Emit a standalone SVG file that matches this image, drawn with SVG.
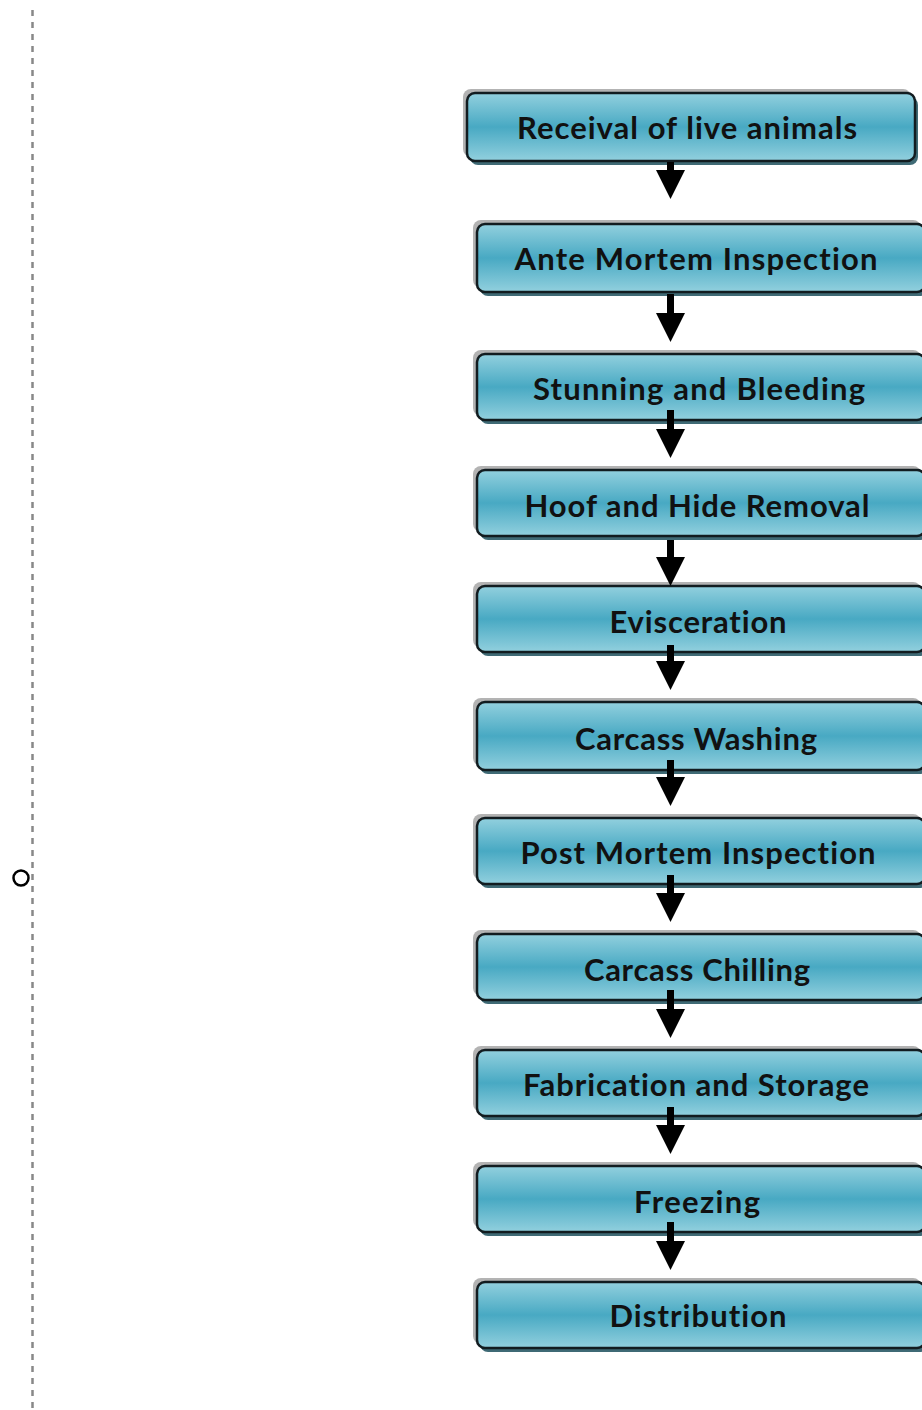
<svg xmlns="http://www.w3.org/2000/svg" width="922" height="1410" viewBox="0 0 922 1410">
<style>
.lbl{font-family:Lato,"Liberation Sans",sans-serif;font-weight:bold;font-size:31px;fill:#111;text-anchor:middle;font-variant-ligatures:none;font-feature-settings:"liga" 0}
.hi{fill:#b3b3b3}
.sh{fill:#3f6a75}
.bx{fill:url(#g);stroke:#121c20;stroke-width:2.5}
.arr{fill:#000}
</style>
<defs>
<linearGradient id="g" x1="0" y1="0" x2="0" y2="1">
<stop offset="0" stop-color="#92d0de"/>
<stop offset="0.5" stop-color="#48a9c3"/>
<stop offset="1" stop-color="#92d0de"/>
</linearGradient>
</defs>
<rect width="922" height="1410" fill="#fff"/>
<line x1="32.5" y1="10" x2="32.5" y2="1410" stroke="#888" stroke-width="2.5" stroke-dasharray="6,6"/>
<circle cx="21" cy="878" r="7.5" fill="none" stroke="#000" stroke-width="2.5"/>

<g id="n1"><rect class="hi" x="463" y="89" width="448" height="68" rx="8"/><rect class="sh" x="470" y="97" width="448" height="68" rx="8"/><rect class="bx" x="467" y="93" width="448" height="68" rx="8"/><text class="lbl" x="687" y="139" textLength="340">Receival of live animals</text></g>
<g id="n2"><rect class="hi" x="473" y="220" width="448" height="68" rx="8"/><rect class="sh" x="480" y="228" width="448" height="68" rx="8"/><rect class="bx" x="477" y="224" width="448" height="68" rx="8"/><text class="lbl" x="696" y="270" textLength="363">Ante Mortem Inspection</text></g>
<g id="n3"><rect class="hi" x="473" y="350" width="448" height="66" rx="8"/><rect class="sh" x="480" y="358" width="448" height="66" rx="8"/><rect class="bx" x="477" y="354" width="448" height="66" rx="8"/><text class="lbl" x="699" y="400" textLength="332">Stunning and Bleeding</text></g>
<g id="n4"><rect class="hi" x="473" y="466" width="448" height="66" rx="8"/><rect class="sh" x="480" y="474" width="448" height="66" rx="8"/><rect class="bx" x="477" y="470" width="448" height="66" rx="8"/><text class="lbl" x="697" y="517" textLength="345">Hoof and Hide Removal</text></g>
<g id="n5"><rect class="hi" x="473" y="582" width="448" height="66" rx="8"/><rect class="sh" x="480" y="590" width="448" height="66" rx="8"/><rect class="bx" x="477" y="586" width="448" height="66" rx="8"/><text class="lbl" x="698" y="633" textLength="177">Evisceration</text></g>
<g id="n6"><rect class="hi" x="473" y="698" width="448" height="68" rx="8"/><rect class="sh" x="480" y="706" width="448" height="68" rx="8"/><rect class="bx" x="477" y="702" width="448" height="68" rx="8"/><text class="lbl" x="696" y="750" textLength="242">Carcass Washing</text></g>
<g id="n7"><rect class="hi" x="473" y="814" width="448" height="66" rx="8"/><rect class="sh" x="480" y="822" width="448" height="66" rx="8"/><rect class="bx" x="477" y="818" width="448" height="66" rx="8"/><text class="lbl" x="698" y="864" textLength="355">Post Mortem Inspection</text></g>
<g id="n8"><rect class="hi" x="473" y="930" width="448" height="66" rx="8"/><rect class="sh" x="480" y="938" width="448" height="66" rx="8"/><rect class="bx" x="477" y="934" width="448" height="66" rx="8"/><text class="lbl" x="697" y="981" textLength="226">Carcass Chilling</text></g>
<g id="n9"><rect class="hi" x="473" y="1046" width="448" height="66" rx="8"/><rect class="sh" x="480" y="1054" width="448" height="66" rx="8"/><rect class="bx" x="477" y="1050" width="448" height="66" rx="8"/><text class="lbl" x="696" y="1096" textLength="346">Fabrication and Storage</text></g>
<g id="n10"><rect class="hi" x="473" y="1162" width="448" height="66" rx="8"/><rect class="sh" x="480" y="1170" width="448" height="66" rx="8"/><rect class="bx" x="477" y="1166" width="448" height="66" rx="8"/><text class="lbl" x="697" y="1213" textLength="126">Freezing</text></g>
<g id="n11"><rect class="hi" x="473" y="1278" width="448" height="66" rx="8"/><rect class="sh" x="480" y="1286" width="448" height="66" rx="8"/><rect class="bx" x="477" y="1282" width="448" height="66" rx="8"/><text class="lbl" x="698" y="1327" textLength="177">Distribution</text></g>

<g id="connectors" class="arr">
<path d="M667 162 h7 v8 h11 l-14.5 29 l-14.5 -29 h11 z"/>
<path d="M667 294 h7 v19 h11 l-14.5 29 l-14.5 -29 h11 z"/>
<path d="M667 410 h7 v19 h11 l-14.5 29 l-14.5 -29 h11 z"/>
<path d="M667 540 h7 v17 h11 l-14.5 29 l-14.5 -29 h11 z"/>
<path d="M667 645 h7 v16 h11 l-14.5 29 l-14.5 -29 h11 z"/>
<path d="M667 760 h7 v17 h11 l-14.5 29 l-14.5 -29 h11 z"/>
<path d="M667 875 h7 v18 h11 l-14.5 29 l-14.5 -29 h11 z"/>
<path d="M667 990 h7 v19 h11 l-14.5 29 l-14.5 -29 h11 z"/>
<path d="M667 1107 h7 v18 h11 l-14.5 29 l-14.5 -29 h11 z"/>
<path d="M667 1222 h7 v19 h11 l-14.5 29 l-14.5 -29 h11 z"/>
</g>
</svg>
